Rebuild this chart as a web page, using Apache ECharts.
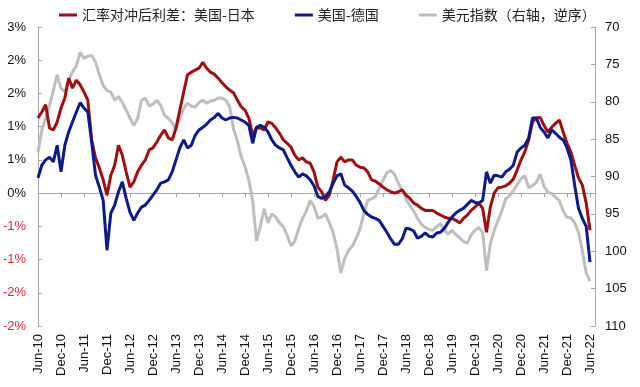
<!DOCTYPE html>
<html><head><meta charset="utf-8">
<script src="https://cdn.jsdelivr.net/npm/echarts/dist/echarts.min.js"></script>
<style>html,body{margin:0;padding:0;background:#fff}#c{width:640px;height:387px}</style>
</head><body><div id="c"></div>
<script>
// Series names (legend)
const seriesNames = ['汇率对冲后利差：美国-日本', '美国-德国', '美元指数（右轴，逆序）'];
// X tick labels, one every 6 months starting Jun-10 (x value = months since Jun 2010)
const xTickLabels = ['Jun-10','Dec-10','Jun-11','Dec-11','Jun-12','Dec-12','Jun-13','Dec-13','Jun-14','Dec-14','Jun-15','Dec-15','Jun-16','Dec-16','Jun-17','Dec-17','Jun-18','Dec-18','Jun-19','Dec-19','Jun-20','Dec-20','Jun-21','Dec-21','Jun-22'];
// Monthly readings, Jun 2010 .. Jun 2022 (%)
const usJp = [1.13,1.22,1.33,0.98,0.95,1.07,1.28,1.43,1.73,1.58,
 1.70,1.63,1.52,1.40,0.80,0.53,0.38,0.20,-0.03,0.27,
 0.42,0.72,0.57,0.32,0.09,0.17,0.32,0.42,0.50,0.65,
 0.68,0.77,0.87,0.95,0.83,0.80,0.98,1.25,1.52,1.78,
 1.82,1.85,1.88,1.97,1.88,1.82,1.79,1.73,1.66,1.60,
 1.55,1.51,1.40,1.30,1.25,1.13,0.87,0.98,0.98,0.95,
 1.07,1.05,0.98,0.90,0.80,0.75,0.69,0.57,0.50,0.53,
 0.47,0.45,0.32,0.09,0.02,-0.11,-0.03,0.20,0.47,0.54,
 0.47,0.50,0.50,0.42,0.39,0.38,0.32,0.20,0.18,0.14,
 0.09,0.05,0.02,0.00,0.02,0.05,-0.03,-0.08,-0.15,-0.18,
 -0.23,-0.26,-0.26,-0.26,-0.30,-0.33,-0.36,-0.38,-0.38,-0.41,
 -0.45,-0.38,-0.33,-0.26,-0.21,-0.15,-0.23,-0.59,-0.21,0.00,
 0.08,0.09,0.11,0.15,0.21,0.35,0.50,0.62,0.80,1.07,
 1.13,1.14,1.02,0.92,0.99,1.05,1.10,0.92,0.75,0.62,
 0.42,0.23,0.12,-0.15,-0.56];
const usDe = [0.23,0.42,0.50,0.54,0.47,0.72,0.32,0.72,0.92,1.07,
 1.22,1.36,1.28,1.22,0.77,0.27,0.09,-0.11,-0.86,-0.30,
 -0.18,0.02,0.17,-0.08,-0.29,-0.41,-0.30,-0.21,-0.18,-0.11,
 -0.03,0.05,0.15,0.17,0.20,0.32,0.50,0.68,0.80,0.68,
 0.72,0.87,0.95,0.99,1.04,1.10,1.14,1.20,1.13,1.10,
 1.13,1.14,1.13,1.10,1.07,1.02,0.75,0.99,1.02,0.99,
 0.92,0.80,0.72,0.68,0.65,0.53,0.42,0.32,0.24,0.29,
 0.26,0.20,0.11,-0.05,-0.08,-0.05,0.02,0.15,0.26,0.29,
 0.12,0.08,0.03,-0.05,-0.14,-0.26,-0.32,-0.36,-0.38,-0.41,
 -0.50,-0.59,-0.69,-0.77,-0.77,-0.69,-0.53,-0.54,-0.57,-0.68,
 -0.65,-0.60,-0.65,-0.66,-0.60,-0.59,-0.53,-0.44,-0.36,-0.30,
 -0.26,-0.23,-0.17,-0.11,-0.14,-0.15,-0.11,0.32,0.15,0.27,
 0.26,0.24,0.32,0.36,0.42,0.62,0.68,0.72,0.83,1.13,
 1.13,0.99,0.92,0.83,0.95,0.90,0.84,0.80,0.68,0.50,
 0.12,-0.23,-0.38,-0.50,-1.04];
const dxy = [86.8,83.8,82.2,80.5,78.5,76.4,78.2,78.7,77.1,76.0,
 75.2,73.4,74.2,73.9,73.8,74.7,76.4,77.8,78.5,78.7,
 79.8,79.3,80.1,81.1,82.2,83.2,82.2,79.8,79.5,80.6,
 80.3,79.8,80.5,81.8,82.2,82.8,83.8,82.2,80.9,80.2,
 80.6,80.7,80.1,79.8,80.2,79.9,79.8,79.5,79.5,79.8,
 80.7,83.6,85.2,87.3,88.7,90.5,93.2,98.6,96.6,94.3,
 96.2,95.0,95.4,96.2,96.7,97.9,99.3,98.6,97.0,95.6,
 94.6,93.2,94.0,95.6,95.4,95.0,96.2,97.5,99.7,102.9,
 101.0,99.9,99.3,98.3,97.0,95.0,93.2,93.0,92.7,91.6,
 90.5,89.5,89.2,89.7,90.9,91.9,93.0,93.9,94.6,95.6,
 96.4,96.8,97.1,97.2,96.7,96.3,97.2,97.7,97.2,97.8,
 98.2,98.7,98.9,97.8,97.2,96.8,97.5,102.6,99.0,97.2,
 95.9,94.6,93.0,92.6,91.9,91.1,90.3,89.9,91.5,91.2,
 90.8,89.7,91.3,92.1,92.3,92.8,93.2,94.6,95.5,95.5,
 96.2,97.5,99.9,102.9,104.0];

const toPts = arr => arr.map((v, i) => [i, v]);
const axisGrey = '#A6A6A6';
const numFont = 'Liberation Sans, Arial, sans-serif';
const roundAway = v => { const s = v < 0 ? -1 : 1; return s * Math.round(Math.abs(v)); };

const chart = echarts.init(document.getElementById('c'), null, {renderer: 'canvas'});
chart.setOption({
  animation: false,
  backgroundColor: '#fff',
  color: ['#A00F0F', '#0B1A8C', '#BEBEBE'],
  legend: {
    top: 3, left: 54, itemWidth: 18, itemHeight: 3, itemGap: 40, icon: 'rect',
    data: seriesNames,
    textStyle: {fontSize: 14, color: '#222', fontFamily: 'Noto Sans CJK SC'}
  },
  grid: {left: 38, right: 45, top: 27, bottom: 61, containLabel: false, outerBoundsMode: 'none'},
  xAxis: [{
    type: 'value', min: 0, max: 145.3, interval: 6, position: 'bottom',
    axisLine: {show: false, onZero: false}, axisTick: {show: false}, splitLine: {show: false},
    axisLabel: {rotate: 90, margin: 8, fontSize: 13, color: '#111', fontFamily: numFont,
      formatter: v => (Math.abs(v % 6) < 1e-6 ? (xTickLabels[Math.round(v / 6)] || '') : '')}
  }, {
    type: 'value', min: 0, max: 145.3, interval: 6,
    axisLine: {show: true, onZero: true, onZeroAxisIndex: 0, lineStyle: {color: axisGrey, width: 1}},
    axisTick: {show: true, inside: true, length: 4, lineStyle: {color: axisGrey}},
    axisLabel: {show: false}, splitLine: {show: false}
  }],
  yAxis: [{
    type: 'value', position: 'left', min: -2, max: 2.5, interval: 0.5,
    axisLine: {show: true, onZero: false, lineStyle: {color: axisGrey}},
    axisTick: {show: true, inside: true, length: 4, lineStyle: {color: axisGrey}},
    splitLine: {show: false},
    axisLabel: {margin: 12, fontSize: 13, fontFamily: numFont,
      formatter: v => roundAway(v) + '%',
      color: v => (parseFloat(v) < 0 ? '#E2262F' : '#111')}
  }, {
    type: 'value', position: 'right', inverse: true, min: 70, max: 110, interval: 5,
    axisLine: {show: true, onZero: false, lineStyle: {color: axisGrey}},
    axisTick: {show: true, inside: true, length: 4, lineStyle: {color: axisGrey}},
    splitLine: {show: false},
    axisLabel: {margin: 10, fontSize: 13, color: '#111', fontFamily: numFont}
  }],
  series: [
    {name: seriesNames[2], type: 'line', xAxisIndex: 0, yAxisIndex: 1, data: toPts(dxy),
     showSymbol: false, symbol: 'none', lineStyle: {width: 3, color: '#BEBEBE'}, itemStyle: {color: '#BEBEBE'}},
    {name: seriesNames[0], type: 'line', xAxisIndex: 0, yAxisIndex: 0, data: toPts(usJp),
     showSymbol: false, symbol: 'none', lineStyle: {width: 3, color: '#A00F0F'}, itemStyle: {color: '#A00F0F'}},
    {name: seriesNames[1], type: 'line', xAxisIndex: 0, yAxisIndex: 0, data: toPts(usDe),
     showSymbol: false, symbol: 'none', lineStyle: {width: 3, color: '#0B1A8C'}, itemStyle: {color: '#0B1A8C'}}
  ]
});
</script></body></html>
